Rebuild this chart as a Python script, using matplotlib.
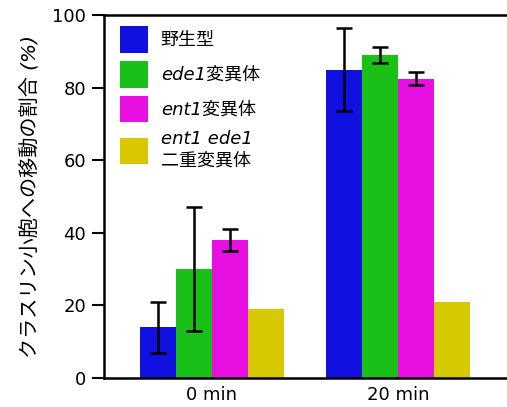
import numpy as np
import matplotlib.pyplot as plt

plt.rcParams['font.family'] = ['DejaVu Sans', 'Noto Sans CJK JP']

# データ
groups = ['0 min', '20 min']
strains = ['野生型', 'ede1変異体', 'ent1変異体', 'ent1 ede1\n二重変異体']
colors = ['#1010e0', '#18c018', '#e810e0', '#d8c800']
values = {
    '野生型': [14, 85],
    'ede1変異体': [30, 89],
    'ent1変異体': [38, 82.5],
    'ent1 ede1\n二重変異体': [19, 21],
}
errors = {
    '野生型': [7, 11.5],
    'ede1変異体': [17, 2.3],
    'ent1変異体': [3, 1.8],
    'ent1 ede1\n二重変異体': [None, None],
}

fig = plt.figure(figsize=(5.07, 4.07), dpi=100)
ax = fig.add_axes([0.205, 0.071, 0.795, 0.892])

x = np.arange(len(groups))
width = 0.194
for i, s in enumerate(strains):
    pos = x + (i - 1.5) * width
    ax.bar(pos, values[s], width, color=colors[i], label=s)
    if errors[s][0] is not None:
        ax.errorbar(pos, values[s], yerr=errors[s], fmt='none', ecolor='black',
                    elinewidth=1.8, capsize=6, capthick=1.8)

ax.set_xlim(-0.58, 1.586)
ax.set_ylim(0, 100)
ax.set_yticks([0, 20, 40, 60, 80, 100])
ax.set_xticks(x)
ax.set_xticklabels(groups, fontsize=13)
ax.tick_params(axis='y', direction='out', length=9, width=1.5, labelsize=13, pad=4)
ax.tick_params(axis='x', length=0, pad=6)
ax.spines['right'].set_visible(False)
for sp in ['left', 'top', 'bottom']:
    ax.spines[sp].set_linewidth(1.8)

ax.set_ylabel('クラスリン小胞への移動の割合 (%)', fontsize=14.5, style='italic', labelpad=8)

ax.legend(loc='upper left', bbox_to_anchor=(0.04, 0.97), frameon=False,
          handlelength=1.55, handleheight=1.9, handletextpad=0.7,
          labelspacing=0.45, borderaxespad=0, borderpad=0,
          prop={'style': 'italic', 'size': 13})

plt.savefig('out.png', dpi=100)
